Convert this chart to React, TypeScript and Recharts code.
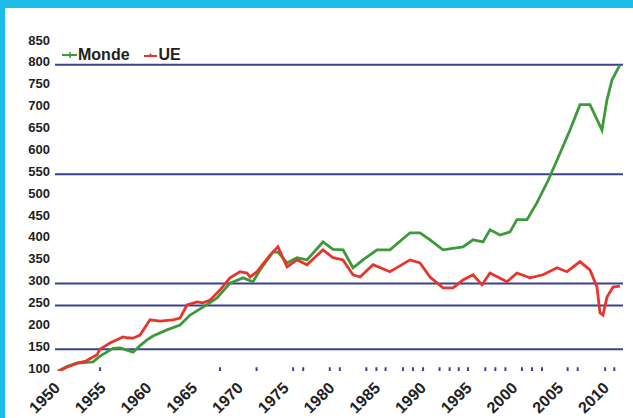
import React from "react";
import {
  Line,
  LineChart,
  ReferenceLine,
  Scatter,
  XAxis,
  YAxis,
} from "recharts";

// Monde (world) index
const mondeYears = [
  1950.0, 1950.98, 1952.08, 1953.83, 1954.59, 1956.01, 1956.78, 1958.2,
  1958.96, 1959.73, 1960.38, 1961.91, 1963.33, 1964.43, 1965.85, 1967.38,
  1968.8, 1970.22, 1971.31, 1972.08, 1973.5, 1974.04, 1975.03, 1976.12,
  1977.21, 1978.96, 1980.05, 1981.15, 1982.24, 1983.33, 1984.86, 1986.28,
  1988.47, 1989.56, 1990.66, 1992.08, 1994.26, 1995.36, 1996.45, 1997.21,
  1998.31, 1999.4, 2000.16, 2001.26, 2002.35, 2003.55, 2004.64, 2005.96,
  2007.05, 2008.14, 2008.8, 2009.45, 2010.0, 2010.55, 2011.42,
];
const mondeValues = [
  100, 110, 118, 121, 134, 152, 153, 143, 158, 171, 180, 194, 205, 228, 246,
  267, 301, 313, 304, 331, 372, 372, 347, 359, 354, 395, 378, 377, 336, 354,
  377, 377, 416, 416, 400, 377, 384, 400, 395, 423, 411, 418, 446, 446, 485,
  535, 587, 651, 709, 709, 680, 651, 720, 766, 800,
];

// UE (European Union) index
const ueYears = [
  1950.0, 1950.87, 1952.08, 1952.95, 1954.26, 1954.59, 1955.68, 1957.1,
  1957.54, 1958.2, 1958.96, 1960.05, 1961.15, 1962.57, 1963.33, 1964.1,
  1965.19, 1965.85, 1966.61, 1967.7, 1968.8, 1969.89, 1970.66, 1970.98,
  1971.75, 1973.17, 1974.04, 1975.03, 1976.12, 1977.21, 1978.96, 1980.05,
  1981.15, 1982.24, 1983.01, 1984.43, 1986.28, 1988.47, 1989.56, 1990.66,
  1992.08, 1993.17, 1994.26, 1995.36, 1996.34, 1997.21, 1999.07, 2000.16,
  2001.58, 2003.01, 2004.54, 2005.63, 2007.05, 2008.14, 2008.91, 2009.23,
  2009.56, 2010.0, 2010.66, 2011.42,
];
const ueValues = [
  98, 108, 118, 122, 137, 150, 164, 178, 176, 175, 182, 217, 214, 217, 221,
  251, 258, 256, 262, 285, 313, 327, 324, 315, 327, 365, 384, 338, 354, 343,
  377, 359, 354, 320, 315, 343, 327, 354, 347, 315, 290, 290, 308, 320, 297,
  324, 304, 324, 313, 320, 336, 327, 350, 331, 292, 233, 228, 269, 292, 294,
];

// small blue marks along the bottom of the plot
const markYears = [
  1954.6, 1967.7, 1971.7, 1975.7, 1976.8, 1979.7, 1980.8, 1983.7, 1984.8,
  1985.8, 1987.7, 1988.8, 1989.9, 1991.7, 1992.8, 1993.8, 1994.8, 1996.7,
  1997.8, 1998.9, 2000.7, 2001.8, 2002.9, 2005.7, 2006.8, 2009.8, 2010.8,
];
const markLevel = 104;

const yearTicks = [1950, 1955, 1960, 1965, 1970, 1975, 1980, 1985, 1990, 1995, 2000, 2005, 2010];
const valueTicks = [100, 150, 200, 250, 300, 350, 400, 450, 500, 550, 600, 650, 700, 750, 800, 850];
const gridValues = [150, 250, 300, 550, 800];

const GREEN = "#3c9a3a";
const RED = "#e8352c";
const NAVY = "#3b4190";
const CYAN = "#1dbce9";
const FONT = "'Liberation Sans', Arial, sans-serif";

const monde = mondeYears.map((year, i) => ({ year, value: mondeValues[i] }));
const ue = ueYears.map((year, i) => ({ year, value: ueValues[i] }));
const marks = markYears.map((year) => ({ year, value: markLevel }));

function YTick({ x, y, payload }: any) {
  return (
    <text
      x={x}
      y={y - 3}
      dy="0.355em"
      textAnchor="end"
      fontFamily={FONT}
      fontWeight="bold"
      fontSize={13}
      fill="#222"
    >
      {payload.value}
    </text>
  );
}

function XTick({ x, y, payload }: any) {
  const tx = x + 3;
  const ty = y + 18;
  return (
    <text
      x={tx}
      y={ty}
      textAnchor="end"
      transform={`rotate(-45, ${tx}, ${ty})`}
      fontFamily={FONT}
      fontWeight="bold"
      fontSize={16}
      fill="#222"
    >
      {payload.value}
    </text>
  );
}

function MarkShape({ cx, cy }: any) {
  return <rect x={cx - 1} y={cy - 2} width={2} height={4} fill={NAVY} />;
}

function LegendBox() {
  const text: React.CSSProperties = {
    fontFamily: FONT,
    fontWeight: "bold",
    fontSize: 16,
    color: "#222",
    lineHeight: "16px",
  };
  return (
    <div
      style={{
        position: "absolute",
        left: 62,
        top: 47,
        display: "flex",
        alignItems: "center",
      }}
    >
      <svg width={15} height={8} style={{ marginRight: 1 }}>
        <line x1={0} y1={4} x2={15} y2={4} stroke={GREEN} strokeWidth={2} />
        <line x1={8} y1={1} x2={8} y2={7} stroke={GREEN} strokeWidth={1.5} />
      </svg>
      <span style={text}>Monde</span>
      <svg width={13} height={8} style={{ marginLeft: 14, marginRight: 2 }}>
        <line x1={0} y1={5} x2={13} y2={5} stroke={RED} strokeWidth={2} />
        <path d="M4 6 L6.5 2 L9 6 Z" fill={RED} />
      </svg>
      <span style={text}>UE</span>
    </div>
  );
}

export default function App() {
  return (
    <div
      style={{
        position: "fixed",
        left: 0,
        top: 0,
        width: 633,
        height: 418,
        background: "#fff",
        overflow: "hidden",
      }}
    >
      <div style={{ position: "absolute", left: 0, top: 0, width: 633, height: 8, background: CYAN }} />
      <div style={{ position: "absolute", left: 0, top: 0, width: 5, height: 418, background: CYAN }} />
      <div style={{ position: "absolute", left: 0, top: 0 }}>
        <LineChart
          width={633}
          height={418}
          margin={{ top: 43, right: 10, bottom: 7, left: 0 }}
        >
          <XAxis
            dataKey="year"
            type="number"
            domain={[1949.67, 2011.75]}
            ticks={yearTicks}
            allowDataOverflow
            axisLine={false}
            tickLine={false}
            tickSize={0}
            tickMargin={0}
            height={40}
            interval={0}
            tick={<XTick />}
          />
          <YAxis
            type="number"
            domain={[100, 850]}
            ticks={valueTicks}
            allowDataOverflow
            axisLine={false}
            tickLine={false}
            tickSize={0}
            tickMargin={5}
            width={55}
            interval={0}
            tick={<YTick />}
          />
          {gridValues.map((v) => (
            <ReferenceLine key={v} y={v} stroke={NAVY} strokeWidth={2} />
          ))}
          <Scatter
            data={marks}
            dataKey="value"
            shape={<MarkShape />}
            isAnimationActive={false}
            legendType="none"
          />
          <Line
            data={monde}
            dataKey="value"
            name="Monde"
            type="linear"
            stroke={GREEN}
            strokeWidth={2.8}
            dot={false}
            isAnimationActive={false}
          />
          <Line
            data={ue}
            dataKey="value"
            name="UE"
            type="linear"
            stroke={RED}
            strokeWidth={2.8}
            dot={false}
            isAnimationActive={false}
          />
        </LineChart>
      </div>
      <LegendBox />
    </div>
  );
}
